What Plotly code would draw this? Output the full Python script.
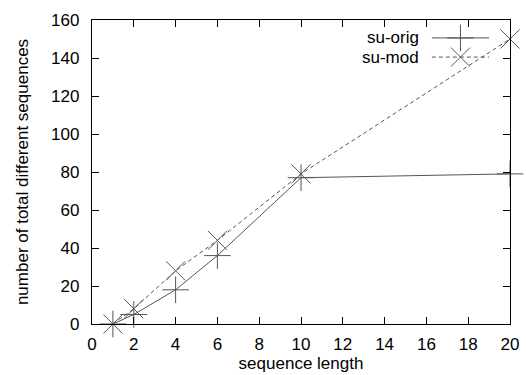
import plotly.graph_objects as go

seq_len = [1, 2, 4, 6, 10, 20]
su_orig = [0, 5, 18, 36, 77, 79]
su_mod = [0, 8, 28, 44, 79, 150]
series_names = ["su-orig", "su-mod"]
x_ticks = [0, 2, 4, 6, 8, 10, 12, 14, 16, 18, 20]
y_ticks = [0, 20, 40, 60, 80, 100, 120, 140, 160]

FONT = "Liberation Sans, Arial, Helvetica, sans-serif"
GRAY = "#555555"
FS = 17

fig = go.Figure()
fig.add_trace(go.Scatter(
    x=seq_len, y=su_orig, mode="lines+markers", name=series_names[0],
    line=dict(color=GRAY, width=1),
    marker=dict(symbol="cross-thin-open", size=19, color=GRAY, line=dict(color=GRAY, width=1)),
    cliponaxis=False, showlegend=False))
fig.add_trace(go.Scatter(
    x=seq_len, y=su_mod, mode="lines+markers", name=series_names[1],
    line=dict(color=GRAY, width=1, dash="4px,3px"),
    marker=dict(symbol="x-thin-open", size=19, color=GRAY, line=dict(color=GRAY, width=1)),
    cliponaxis=False, showlegend=False))

# gnuplot-style legend (text left, sample right) on an overlay axis in 0..1 units
leg_x = [0.813, 0.95]
leg_y = [0.941, 0.878]
for i, (name, sym, dash) in enumerate([(series_names[0], "cross-thin-open", "solid"),
                                        (series_names[1], "x-thin-open", "4px,3px")]):
    fig.add_trace(go.Scatter(
        x=leg_x, y=[leg_y[i], leg_y[i]], mode="lines", xaxis="x2", yaxis="y2",
        line=dict(color=GRAY, width=1, dash=dash), showlegend=False, hoverinfo="skip"))
    fig.add_trace(go.Scatter(
        x=[sum(leg_x) / 2], y=[leg_y[i]], mode="markers", xaxis="x2", yaxis="y2",
        marker=dict(symbol=sym, size=19, color=GRAY, line=dict(color=GRAY, width=1)),
        showlegend=False, hoverinfo="skip"))
    fig.add_annotation(x=0.787, y=leg_y[i], xref="x2", yref="y2", text=name,
                       showarrow=False, xanchor="right", yanchor="middle",
                       font=dict(family=FONT, size=FS, color="black"))

axis_common = dict(showgrid=False, zeroline=False, showline=True, linecolor="black",
                   linewidth=1.3, mirror="ticks", ticks="inside", ticklen=7,
                   tickcolor="black", tickwidth=1.3, automargin=False,
                   tickfont=dict(family=FONT, size=FS, color="black"))

fig.update_layout(
    width=526, height=375,
    margin=dict(l=92, r=16, t=20, b=51),
    paper_bgcolor="white", plot_bgcolor="white",
    xaxis=dict(range=[0, 20], tickvals=x_ticks, ticklabelstandoff=4,
               title=dict(text="sequence length", font=dict(family=FONT, size=FS, color="black"),
                          standoff=1),
               **axis_common),
    yaxis=dict(range=[0, 160], tickvals=y_ticks, ticklabelstandoff=8,
               title=dict(text="number of total different sequences",
                          font=dict(family=FONT, size=FS, color="black"), standoff=18),
               **axis_common),
    xaxis2=dict(overlaying="x", range=[0, 1], visible=False),
    yaxis2=dict(overlaying="y", range=[0, 1], visible=False),
    showlegend=False,
)

fig.write_html("out.html", config={"displayModeBar": False},
               post_script="document.body.style.margin='0';document.body.style.padding='0';")
